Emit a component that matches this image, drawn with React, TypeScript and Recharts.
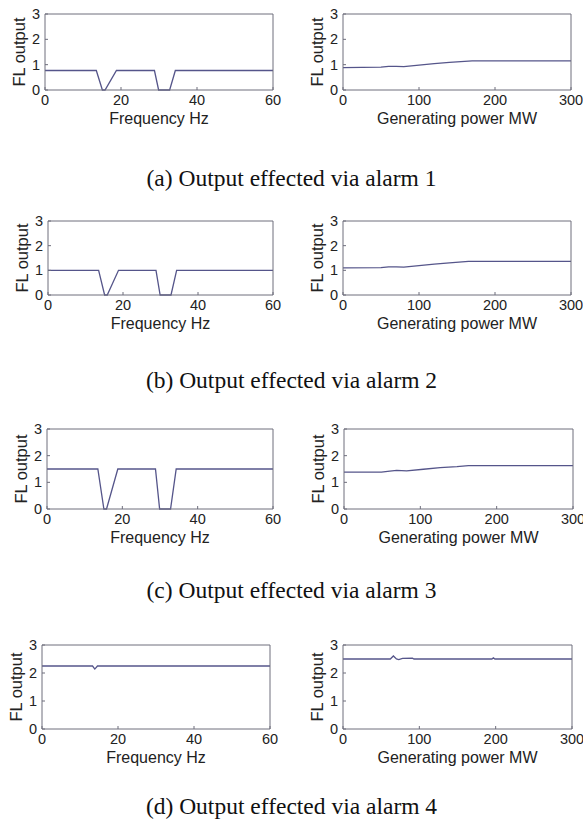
import React from 'react';
import { LineChart, Line, XAxis, YAxis } from 'recharts';

// ---- axis ticks ----
const freqTicks = [0, 20, 40, 60];
const powerTicks = [0, 100, 200, 300];
const outTicks = [0, 1, 2, 3];

// ---- frequency panels (Hz) ----
const freqX = [0, 13.5, 15.1, 15.8, 18.8, 28.8, 29.9, 32.8, 34.3, 60];
const freqA = [0.77, 0.77, 0, 0, 0.77, 0.77, 0, 0, 0.77, 0.77];
const freqB = [1.0, 1.0, 0, 0, 1.0, 1.0, 0, 0, 1.0, 1.0];
const freqC = [1.5, 1.5, 0, 0, 1.5, 1.5, 0, 0, 1.5, 1.5];
const freqDX = [0, 13.3, 13.9, 14.6, 60];
const freqD = [2.25, 2.25, 2.14, 2.25, 2.25];

// ---- generating power panels (MW) ----
const powAX = [0, 50, 60, 70, 80, 90, 100, 120, 140, 165, 170, 300];
const powA = [0.88, 0.9, 0.93, 0.93, 0.92, 0.95, 0.98, 1.04, 1.09, 1.14, 1.15, 1.15];
const powBX = [0, 50, 60, 70, 80, 100, 120, 140, 165, 300];
const powB = [1.1, 1.11, 1.14, 1.14, 1.13, 1.19, 1.25, 1.3, 1.36, 1.36];
const powCX = [0, 49, 60, 69, 82, 104, 126, 148, 163, 300];
const powC = [1.38, 1.38, 1.42, 1.45, 1.43, 1.49, 1.55, 1.59, 1.63, 1.63];
const powDX = [0, 62, 66, 70, 73, 78, 91, 93, 195, 197, 199, 300];
const powD = [2.5, 2.5, 2.61, 2.5, 2.48, 2.52, 2.53, 2.5, 2.5, 2.54, 2.5, 2.5];

const captions = [
  '(a) Output effected via alarm 1',
  '(b) Output effected via alarm 2',
  '(c) Output effected via alarm 3',
  '(d) Output effected via alarm 4',
];

const zip = (xs: number[], ys: number[]) => xs.map((x, i) => ({ x, y: ys[i] }));

const LINE = '#55558a';
const AXIS = '#6e6e7c';
const SANS = 'Liberation Sans, Arial, sans-serif';

type PanelProps = {
  left: number; top: number; w: number; h: number;
  px: number; py: number; pw: number; ph: number;
  data: { x: number; y: number }[];
  xMax: number; xTicks: number[]; xLabel: string;
};

function Panel({ left, top, w, h, px, py, pw, ph, data, xMax, xTicks, xLabel }: PanelProps) {
  // axes take 1px each (Recharts skips zero-size axes)
  const margin = {
    left: px - left - 1,
    top: py - top - 1,
    right: left + w - (px + pw) - 1,
    bottom: top + h - (py + ph) - 1,
  };
  const tickStyle = { fontSize: 14.5, fill: '#222', fontFamily: SANS };
  return (
    <div style={{ position: 'absolute', left, top }}>
      <LineChart width={w} height={h} data={data} margin={margin}>
        <XAxis
          xAxisId="b" dataKey="x" type="number" domain={[0, xMax]} ticks={xTicks}
          interval={0} height={1} tickSize={-3} tickMargin={8} stroke={AXIS}
          tick={tickStyle}
          label={{ value: xLabel, position: 'bottom', offset: 22, style: { fontSize: 16, fill: '#222', fontFamily: SANS } }}
        />
        <XAxis
          xAxisId="t" orientation="top" dataKey="x" type="number" domain={[0, xMax]} ticks={xTicks}
          interval={0} height={1} tickSize={-3} tick={false} stroke={AXIS}
        />
        <YAxis
          yAxisId="l" type="number" domain={[0, 3]} ticks={outTicks} interval={0}
          width={1} tickSize={-3} tickMargin={8} stroke={AXIS} tick={tickStyle}
          label={{ value: 'FL output', angle: -90, position: 'left', offset: 25, style: { textAnchor: 'middle', fontSize: 16.5, fill: '#222', fontFamily: SANS } }}
        />
        <YAxis
          yAxisId="r" orientation="right" type="number" domain={[0, 3]} ticks={outTicks} interval={0}
          width={1} tickSize={-3} tick={false} stroke={AXIS}
        />
        <Line
          xAxisId="b" yAxisId="l" dataKey="y" type="linear" stroke={LINE} strokeWidth={1.3}
          dot={false} activeDot={false} isAnimationActive={false}
        />
      </LineChart>
    </div>
  );
}

const rows = [
  { py: 14, ph: 76, lx: 45, lw: 228, rx: 343, rw: 228, left: zip(freqX, freqA), right: zip(powAX, powA), cap: 178 },
  { py: 221, ph: 74, lx: 48, lw: 225, rx: 343, rw: 228, left: zip(freqX, freqB), right: zip(powBX, powB), cap: 380 },
  { py: 429, ph: 80, lx: 47, lw: 226, rx: 344, rw: 229, left: zip(freqX, freqC), right: zip(powCX, powC), cap: 590 },
  { py: 645, ph: 84, lx: 42, lw: 228, rx: 343, rw: 229, left: zip(freqDX, freqD), right: zip(powDX, powD), cap: 806 },
];

export default function App() {
  return (
    <div style={{ position: 'absolute', left: 0, top: 0, width: 583, height: 828, background: '#fff', overflow: 'hidden' }}>
      {rows.map((r, i) => (
        <React.Fragment key={i}>
          <Panel
            left={0} top={r.py - 14} w={290} h={r.ph + 56}
            px={r.lx} py={r.py} pw={r.lw} ph={r.ph}
            data={r.left} xMax={60} xTicks={freqTicks} xLabel="Frequency Hz"
          />
          <Panel
            left={290} top={r.py - 14} w={293} h={r.ph + 56}
            px={r.rx} py={r.py} pw={r.rw} ph={r.ph}
            data={r.right} xMax={300} xTicks={powerTicks} xLabel="Generating power MW"
          />
          <div
            style={{
              position: 'absolute', left: 0, top: r.cap - 14, width: 583, textAlign: 'center',
              fontFamily: 'Liberation Serif, Times New Roman, serif', fontSize: 23.5, lineHeight: '28px', color: '#111',
            }}
          >
            {captions[i]}
          </div>
        </React.Fragment>
      ))}
    </div>
  );
}
